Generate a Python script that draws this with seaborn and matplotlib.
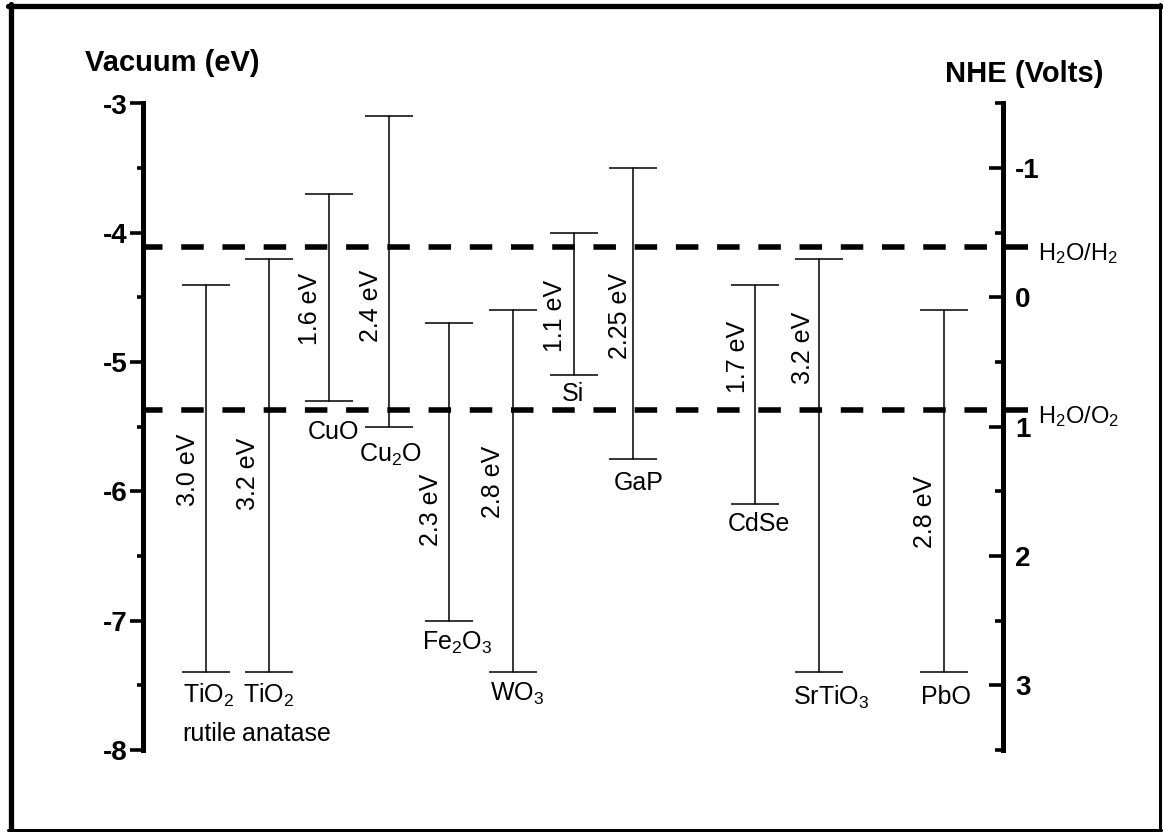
import matplotlib
matplotlib.use("Agg")
import matplotlib.pyplot as plt
import seaborn as sns
import pandas as pd
from matplotlib.lines import Line2D
from matplotlib.ticker import MultipleLocator

# ---------------- data ----------------
materials = ["TiO$_2$", "TiO$_2$", "CuO", "Cu$_2$O", "Fe$_2$O$_3$", "WO$_3$",
             "Si", "GaP", "CdSe", "SrTiO$_3$", "PbO"]
sublabels = ["rutile", "anatase", "", "", "", "", "", "", "", "", ""]
cb_edge = [-4.4, -4.2, -3.7, -3.1, -4.7, -4.6, -4.0, -3.5, -4.4, -4.2, -4.6]
vb_edge = [-7.4, -7.4, -5.3, -5.5, -7.0, -7.4, -5.1, -5.75, -6.1, -7.4, -7.4]
gap_text = ["3.0 eV", "3.2 eV", "1.6 eV", "2.4 eV", "2.3 eV", "2.8 eV",
            "1.1 eV", "2.25 eV", "1.7 eV", "3.2 eV", "2.8 eV"]
redox_names = ["H$_2$O/H$_2$", "H$_2$O/O$_2$"]
redox_levels = [-4.11, -5.37]
left_ticks = [-8, -7, -6, -5, -4, -3]
nhe_ticks = [-1, 0, 1, 2, 3]

# ---------------- layout (positions only) ----------------
x_pos = [7.33, 14.65, 21.6, 28.6, 35.6, 43.0, 50.1, 57.0, 71.2, 78.6, 93.1]
gap_label_y = [-5.834, -5.865, -4.589, -4.566, -6.144, -5.93,
               -4.643, -4.643, -4.96, -4.89, -6.16]
gap_dx_px = [-6, -9, -7, -6, -6, -8, -7, -1, -5, -4, -7]
name_dx_px = [1, -2, 3, -6, -3, 1, 12, 5, -4, -2, 1]
name_gap_px = [12, 12, 20, 17, 11, 10, 8, 13, 9, 14, 14]
PX = 0.72  # points per pixel at dpi 100
CAP = 2.79  # half cap width in x units

sns.set_theme(style="white")
plt.rcParams["font.family"] = ["Liberation Sans", "DejaVu Sans"]
plt.rcParams["mathtext.fontset"] = "custom"
plt.rcParams["mathtext.rm"] = "Liberation Sans"
plt.rcParams["mathtext.it"] = "Liberation Sans:italic"
plt.rcParams["mathtext.bf"] = "Liberation Sans:bold"
plt.rcParams["axes.unicode_minus"] = False
for key in ["text.color", "axes.labelcolor", "xtick.color", "ytick.color",
            "axes.edgecolor"]:
    plt.rcParams[key] = "black"

fig = plt.figure(figsize=(11.63, 8.32), dpi=100)
fig.patch.set_facecolor("white")
ax = fig.add_axes([143 / 1163, 82 / 832, 860 / 1163, 646.5 / 832])
ax.set_facecolor("white")
ax.set_xlim(0, 100)
ax.set_ylim(-8, -3)

df = pd.DataFrame({
    "material": [f"m{i}" for i in range(len(materials))] * 2,
    "x": x_pos * 2,
    "energy": cb_edge + vb_edge,
})
sns.lineplot(data=df, x="x", y="energy", units="material", estimator=None,
             sort=False, color="black", lw=1.1, ax=ax, legend=False)
for x, c, v in zip(x_pos, cb_edge, vb_edge):
    ax.hlines([c, v], x - CAP, x + CAP, color="black", lw=1.1)

for y in redox_levels:
    ax.plot([0, 102.9], [y, y], color="black", lw=4.0,
            ls=(0.54, (4.05, 3.37)), clip_on=False, zorder=3)

for i, x in enumerate(x_pos):
    ax.annotate(gap_text[i], (x, gap_label_y[i]),
                xytext=(gap_dx_px[i] * PX, 0), textcoords="offset points",
                rotation=90, ha="right", va="center", fontsize=18,
                color="black")
    ax.annotate(materials[i], (x - CAP, vb_edge[i]),
                xytext=(name_dx_px[i] * PX, -(name_gap_px[i] + 18) * PX),
                textcoords="offset points", ha="left", va="baseline",
                fontsize=18, color="black")
    if sublabels[i]:
        ax.annotate(sublabels[i], (x - CAP, vb_edge[i]),
                    xytext=((name_dx_px[i] - 1) * PX, -69 * PX),
                    textcoords="offset points", ha="left", va="baseline",
                    fontsize=18, color="black")

for name, y in zip(redox_names, redox_levels):
    ax.annotate(name, (100, y), xytext=(35 * PX, -13 * PX),
                textcoords="offset points", ha="left", va="baseline",
                fontsize=17, annotation_clip=False, color="black")

# left axis
for s in ["top", "bottom", "right"]:
    ax.spines[s].set_visible(False)
ax.spines["left"].set_linewidth(3.6)
ax.spines["left"].set_color("black")
ax.set_xticks([])
ax.set_yticks(left_ticks)
ax.set_yticklabels([str(t) for t in left_ticks])
ax.yaxis.set_minor_locator(MultipleLocator(0.5))
ax.tick_params(axis="y", which="major", direction="out", length=9.4,
               width=2.6, pad=1.5, labelsize=20, colors="black", left=True)
ax.tick_params(axis="y", which="minor", direction="out", length=4.3,
               width=2.6, left=True, colors="black")
for lab in ax.get_yticklabels():
    lab.set_fontweight("bold")
ax.set_ylabel("")
ax.set_xlabel("")

# right axis (NHE)
ax2 = ax.twinx()
ax2.set_ylim(3.5, -1.5)
for s in ["top", "bottom", "left"]:
    ax2.spines[s].set_visible(False)
ax2.spines["right"].set_linewidth(3.6)
ax2.spines["right"].set_color("black")
ax2.set_yticks(nhe_ticks)
ax2.set_yticklabels([str(t) for t in nhe_ticks])
ax2.yaxis.set_minor_locator(MultipleLocator(0.5))
ax2.tick_params(axis="y", which="major", direction="in", length=10,
                width=2.6, pad=8.6, labelsize=20, colors="black", right=True)
ax2.tick_params(axis="y", which="minor", direction="in", length=5.8,
                width=2.6, right=True, colors="black")
for lab in ax2.get_yticklabels():
    lab.set_fontweight("bold")

fig.text(85 / 1163, 1 - 63 / 832, "Vacuum (eV)", ha="left", va="center",
         fontsize=21, fontweight="bold", color="black")
fig.text(945 / 1163, 1 - 74 / 832, "NHE (Volts)", ha="left", va="center",
         fontsize=21, fontweight="bold", color="black")

# outer frame
fig.add_artist(Line2D([8 / 1163, 1161 / 1163], [1 - 5.5 / 832] * 2,
                      transform=fig.transFigure, color="black", lw=3.8))
fig.add_artist(Line2D([10.5 / 1163] * 2, [1 - 4 / 832, 2 / 832],
                      transform=fig.transFigure, color="black", lw=3.8))
fig.add_artist(Line2D([1160 / 1163] * 2, [1 - 4 / 832, 2 / 832],
                      transform=fig.transFigure, color="black", lw=2.2))
fig.add_artist(Line2D([8 / 1163, 1161 / 1163], [2.5 / 832] * 2,
                      transform=fig.transFigure, color="black", lw=2.2))

fig.savefig("out.png", dpi=100, facecolor="white")
